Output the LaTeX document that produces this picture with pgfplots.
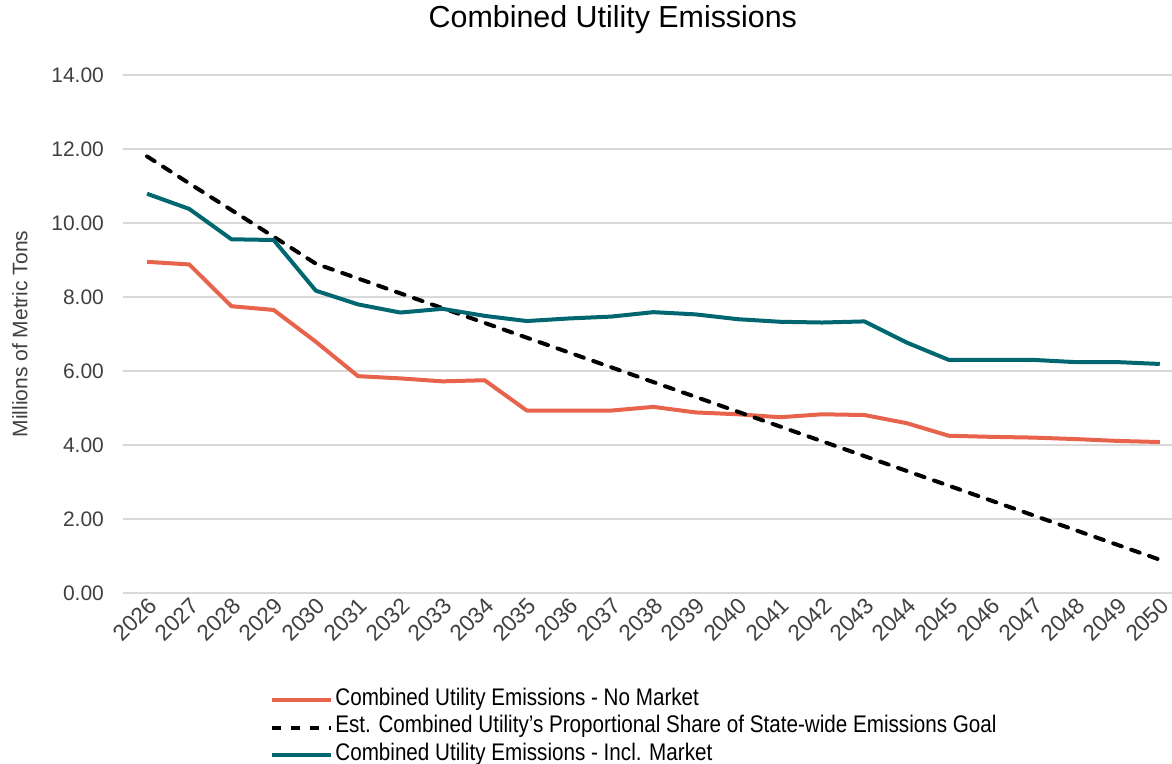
\documentclass[border=0pt]{standalone}
\usepackage{pgfplots}
\pgfplotsset{compat=1.18}
\usepackage{fontspec}
\setmainfont{Liberation Sans}
\newfontfamily\narrowfont[FakeStretch=0.86]{Liberation Sans}
\definecolor{cred}{RGB}{232,99,76}
\definecolor{cteal}{RGB}{0,102,112}
\definecolor{cgrid}{RGB}{217,217,217}
\definecolor{ctick}{RGB}{64,64,64}
\pgfplotstableread{
year nomarket goal inclmarket
2026 8.95 11.80 10.79
2027 8.88 11.07 10.38
2028 7.75 10.35 9.56
2029 7.65 9.63 9.54
2030 6.79 8.90 8.17
2031 5.86 8.50 7.80
2032 5.80 8.10 7.58
2033 5.72 7.70 7.68
2034 5.75 7.30 7.49
2035 4.93 6.90 7.35
2036 4.93 6.50 7.42
2037 4.93 6.10 7.47
2038 5.03 5.70 7.59
2039 4.88 5.30 7.53
2040 4.83 4.90 7.40
2041 4.75 4.50 7.33
2042 4.83 4.10 7.31
2043 4.81 3.70 7.34
2044 4.59 3.30 6.77
2045 4.25 2.90 6.30
2046 4.22 2.50 6.30
2047 4.20 2.10 6.30
2048 4.16 1.70 6.24
2049 4.11 1.30 6.24
2050 4.08 0.90 6.19
}\datatable
\begin{document}
\begin{tikzpicture}
\begin{axis}[
  name=ax,
  scale only axis,
  width=524.5pt, height=259pt,
  xmin=2025.43, xmax=2050.29,
  ymin=0, ymax=14,
  xtick={2026,...,2050},
  ytick={0,2,...,14},
  ymajorgrids,
  grid style={cgrid, line width=0.8pt},
  axis line style={draw=none},
  major tick length=0pt,
  tick label style={font=\fontsize{10.5}{12}\selectfont, text=ctick},
  /pgf/number format/assume math mode=true,
  xticklabel style={/pgf/number format/1000 sep={}, rotate=45, anchor=east, inner sep=1pt, yshift=-5pt, font=\fontsize{11.3}{12}\selectfont},
  yticklabel style={/pgf/number format/fixed, /pgf/number format/fixed zerofill, /pgf/number format/precision=2, xshift=-6pt},
  ylabel={Millions of Metric Tons},
  ylabel style={at={(axis description cs:-0.0982,0.5)}, anchor=center, font=\fontsize{10.5}{12}\selectfont, text=ctick},
  title={Combined Utility Emissions},
  title style={at={(axis description cs:0.467,1)}, anchor=center, yshift=21.5pt, font=\fontsize{15.2}{17}\selectfont},
  legend cell align=left,
  legend style={at={(axis description cs:0.1344,-0.172)}, anchor=north west, draw=none, fill=none,
    font=\narrowfont\fontsize{12}{13}\selectfont, row sep=0pt,
    nodes={inner sep=1pt, text height=8.5pt, text depth=3.2pt}},
  legend image code/.code={\draw[#1, line cap=butt] (0cm,0cm) -- (29.5pt,0cm);},
]
\addplot[cred, line width=2pt, line join=round] table[x=year, y=nomarket] {\datatable};
\addlegendentry{Combined Utility Emissions - No Market}
\addplot[black, line width=2pt, dash pattern=on 4.5pt off 5pt, line cap=round] table[x=year, y=goal] {\datatable};
\addlegendentry{Est. Combined Utility’s Proportional Share of State-wide Emissions Goal}
\addplot[cteal, line width=2pt, line join=round] table[x=year, y=inclmarket] {\datatable};
\addlegendentry{Combined Utility Emissions - Incl. Market}
\end{axis}
\pgfresetboundingbox
\path ([xshift=-61.5pt,yshift=-85.5pt]ax.south west) rectangle ([yshift=37.5pt]ax.north east);
\end{tikzpicture}
\end{document}
